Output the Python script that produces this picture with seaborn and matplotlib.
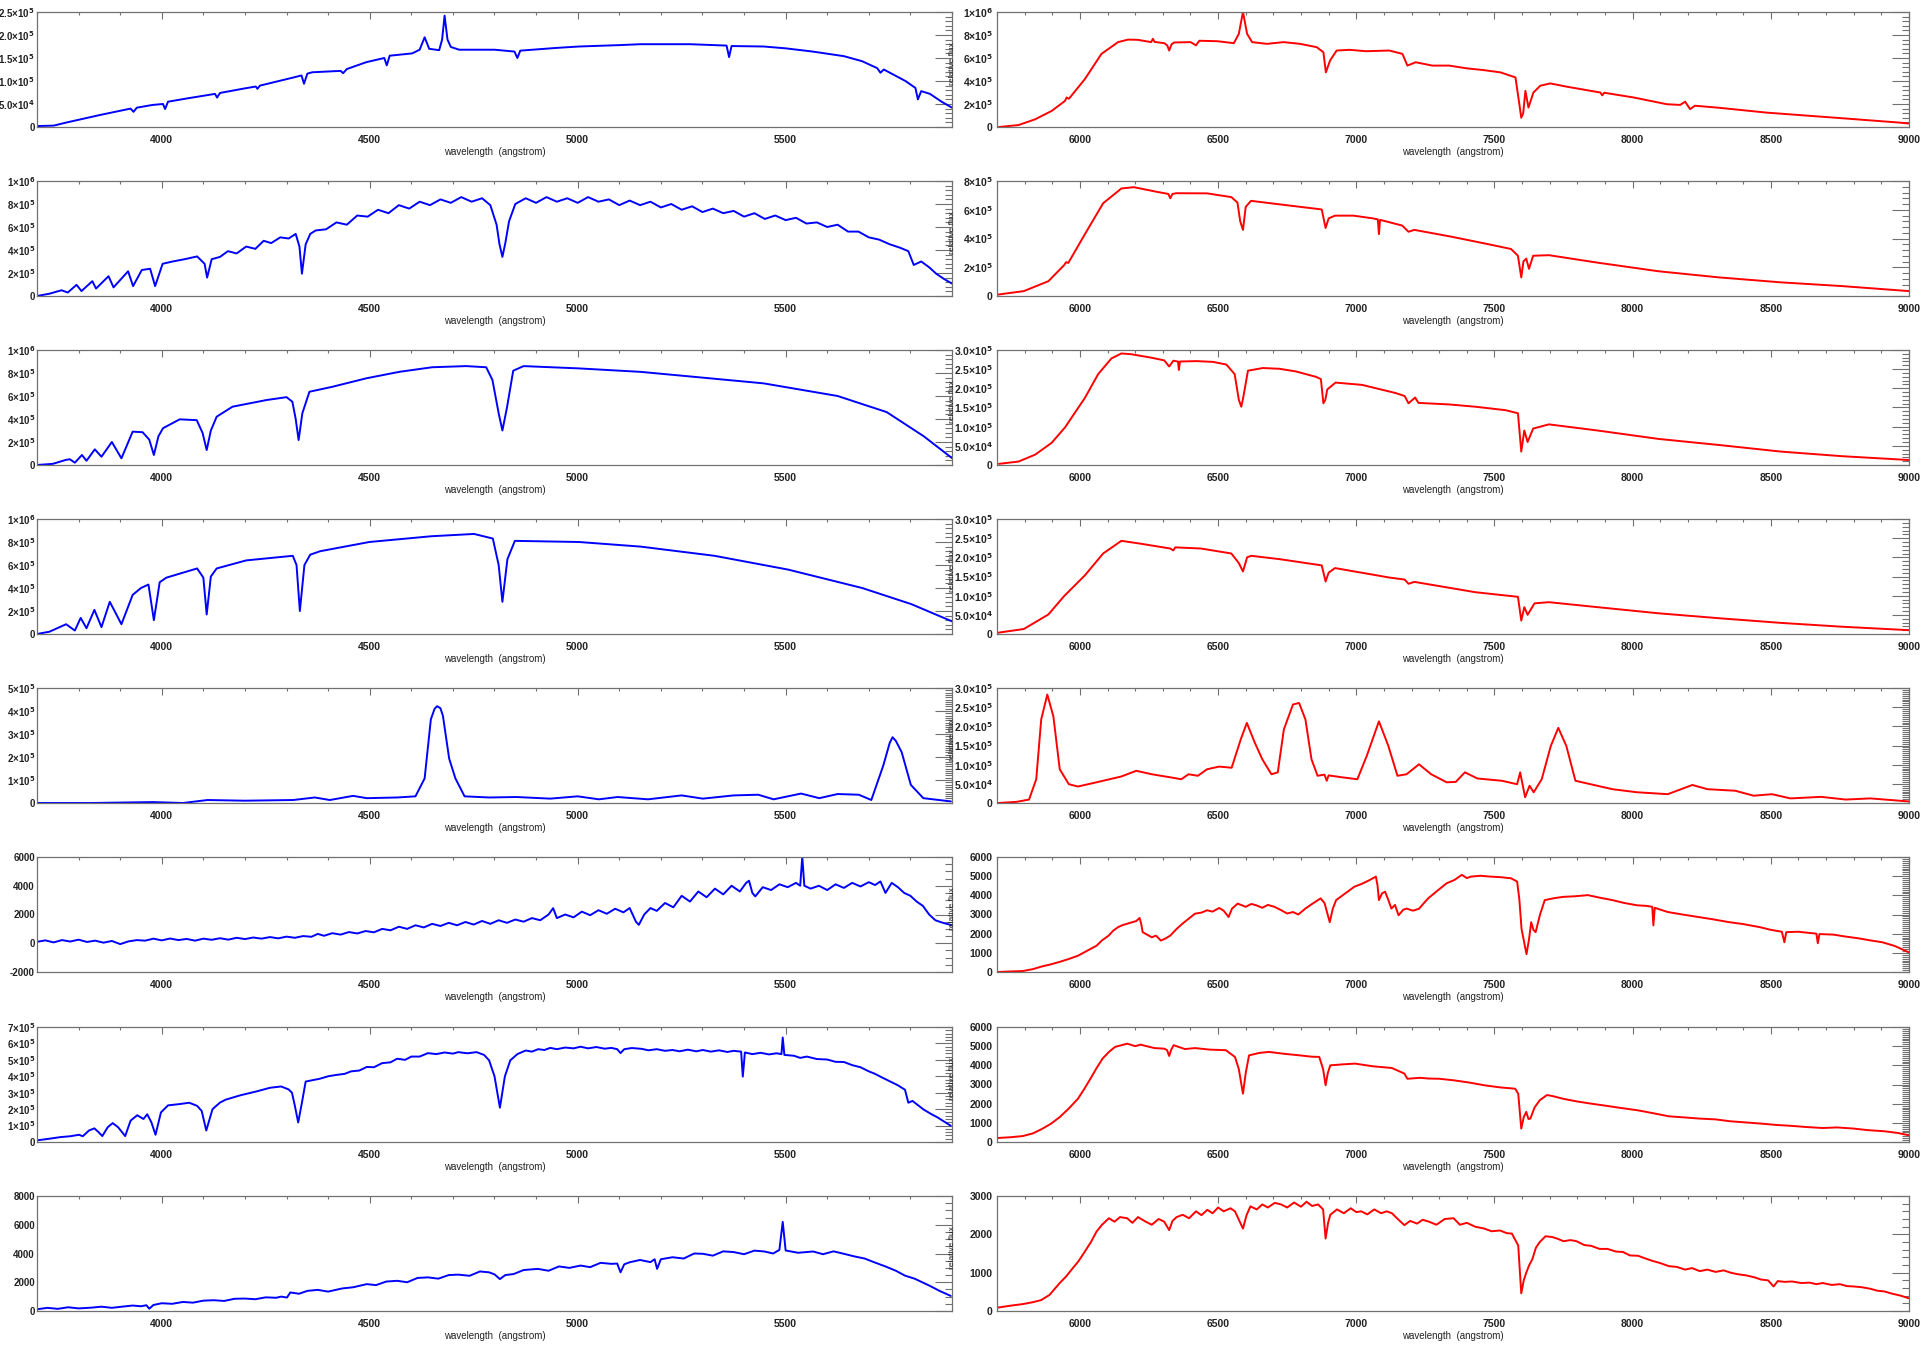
import numpy as np
import pandas as pd
import matplotlib
matplotlib.use("Agg")
import matplotlib.pyplot as plt
from matplotlib.ticker import MultipleLocator, FuncFormatter
import seaborn as sns

# spectra: (wavelength in angstrom, flux in panel units)
# left column, blue arm
blue_1 = [(3700, 0.02), (3740, 0.03), (3772, 0.1), (3851, 0.26), (3925, 0.40), (3932, 0.33), (3940, 0.42),
          (3978, 0.48), (4003, 0.50), (4008, 0.39), (4015, 0.55), (4060, 0.62), (4128, 0.72), (4133, 0.64),
          (4140, 0.74), (4200, 0.84), (4226, 0.88), (4230, 0.83), (4236, 0.9), (4300, 1.04), (4336, 1.12),
          (4342, 0.94), (4350, 1.16), (4362, 1.19), (4430, 1.22), (4436, 1.17), (4445, 1.26), (4492, 1.41),
          (4535, 1.5), (4541, 1.34), (4548, 1.55), (4602, 1.6), (4620, 1.68), (4632, 1.95), (4643, 1.7),
          (4667, 1.67), (4674, 1.9), (4680, 2.42), (4687, 1.9), (4695, 1.74), (4715, 1.68), (4800, 1.68),
          (4848, 1.64), (4855, 1.5), (4862, 1.66), (4950, 1.72), (5003, 1.75), (5100, 1.78), (5151, 1.8),
          (5270, 1.8), (5358, 1.77), (5364, 1.52), (5370, 1.76), (5447, 1.75), (5500, 1.71), (5565, 1.64),
          (5640, 1.54), (5684, 1.43), (5720, 1.28), (5728, 1.18), (5736, 1.25), (5788, 1.0), (5812, 0.85),
          (5818, 0.6), (5826, 0.78), (5847, 0.72), (5875, 0.55), (5900, 0.42)]

blue_2 = [(3700, 0.0), (3730, 0.2), (3759, 0.5), (3774, 0.3), (3795, 0.97), (3807, 0.43), (3833, 1.29),
          (3842, 0.65), (3872, 1.72), (3884, 0.75), (3919, 2.15), (3931, 0.86), (3952, 2.26), (3972, 2.37),
          (3984, 0.86), (4002, 2.8), (4026, 3.0), (4055, 3.2), (4085, 3.44), (4103, 2.8), (4109, 1.6),
          (4120, 3.2), (4140, 3.4), (4159, 3.9), (4180, 3.7), (4203, 4.3), (4225, 4.1), (4245, 4.8),
          (4263, 4.6), (4285, 5.1), (4305, 5.0), (4322, 5.4), (4331, 4.3), (4337, 1.94), (4346, 4.5),
          (4357, 5.4), (4370, 5.7), (4395, 5.8), (4420, 6.4), (4445, 6.2), (4470, 7.0), (4495, 6.9),
          (4520, 7.5), (4545, 7.2), (4570, 7.9), (4595, 7.6), (4620, 8.2), (4645, 7.9), (4670, 8.4),
          (4695, 8.1), (4720, 8.6), (4745, 8.2), (4770, 8.5), (4790, 7.9), (4805, 6.2), (4812, 4.5),
          (4819, 3.4), (4826, 4.6), (4835, 6.5), (4850, 8.0), (4875, 8.5), (4900, 8.1), (4925, 8.6),
          (4950, 8.2), (4975, 8.5), (5000, 8.1), (5025, 8.6), (5050, 8.2), (5075, 8.4), (5100, 7.9),
          (5125, 8.3), (5150, 7.9), (5175, 8.2), (5200, 7.7), (5225, 8.0), (5250, 7.5), (5275, 7.8),
          (5300, 7.3), (5325, 7.6), (5350, 7.2), (5375, 7.4), (5400, 6.9), (5425, 7.2), (5450, 6.7),
          (5475, 7.0), (5500, 6.6), (5525, 6.8), (5550, 6.3), (5575, 6.4), (5600, 6.0), (5625, 6.2),
          (5650, 5.6), (5675, 5.6), (5700, 5.1), (5725, 4.9), (5750, 4.5), (5775, 4.2), (5795, 3.9),
          (5808, 2.7), (5826, 3.0), (5845, 2.5), (5862, 1.94), (5880, 1.5), (5900, 1.08)]

blue_3 = [(3700, 0.0), (3738, 0.1), (3770, 0.45), (3779, 0.5), (3791, 0.2), (3808, 0.87), (3819, 0.37),
          (3839, 1.36), (3855, 0.72), (3880, 2.0), (3903, 0.58), (3930, 2.9), (3954, 2.85), (3970, 2.2),
          (3981, 0.87), (3992, 2.5), (4003, 3.2), (4043, 3.97), (4084, 3.9), (4098, 2.8), (4108, 1.3),
          (4118, 3.0), (4132, 4.2), (4170, 5.07), (4252, 5.65), (4300, 5.9), (4314, 5.5), (4322, 4.0),
          (4329, 2.17), (4338, 4.5), (4355, 6.37), (4410, 6.8), (4492, 7.54), (4571, 8.1), (4650, 8.5),
          (4732, 8.6), (4780, 8.5), (4795, 7.4), (4810, 4.5), (4819, 3.0), (4830, 5.0), (4845, 8.2),
          (4870, 8.6), (5003, 8.4), (5151, 8.1), (5270, 7.7), (5447, 7.1), (5625, 6.0), (5743, 4.6),
          (5832, 2.5), (5900, 0.6)]

blue_4 = [(3700, 0.0), (3730, 0.2), (3770, 0.85), (3791, 0.3), (3805, 1.4), (3819, 0.5), (3838, 2.1),
          (3855, 0.6), (3875, 2.8), (3903, 0.85), (3930, 3.4), (3950, 4.0), (3968, 4.3), (3981, 1.2),
          (3995, 4.5), (4011, 4.9), (4085, 5.7), (4100, 4.9), (4108, 1.7), (4118, 5.0), (4132, 5.7),
          (4203, 6.4), (4315, 6.8), (4324, 6.0), (4332, 2.0), (4343, 6.0), (4357, 6.9), (4381, 7.2),
          (4499, 8.0), (4648, 8.5), (4751, 8.7), (4796, 8.3), (4810, 6.0), (4819, 2.8), (4831, 6.5),
          (4849, 8.1), (5003, 8.0), (5151, 7.6), (5329, 6.8), (5506, 5.6), (5684, 4.0), (5802, 2.6),
          (5900, 1.1)]

blue_5 = [(3700, 0.0), (3831, 0.0), (3978, 0.04), (4051, 0.0), (4110, 0.13), (4199, 0.1), (4316, 0.13),
          (4368, 0.24), (4404, 0.13), (4460, 0.31), (4493, 0.21), (4566, 0.24), (4610, 0.29), (4632, 1.07),
          (4647, 3.64), (4656, 4.1), (4662, 4.21), (4670, 4.12), (4676, 3.79), (4691, 1.93), (4706, 1.07),
          (4728, 0.29), (4787, 0.24), (4853, 0.26), (4934, 0.19), (5000, 0.29), (5051, 0.16), (5096, 0.26),
          (5169, 0.16), (5250, 0.33), (5301, 0.19), (5375, 0.33), (5434, 0.36), (5471, 0.16), (5537, 0.41),
          (5581, 0.21), (5625, 0.39), (5676, 0.36), (5706, 0.13), (5735, 1.64), (5750, 2.6), (5757, 2.86),
          (5765, 2.7), (5779, 2.21), (5801, 0.79), (5831, 0.21), (5897, 0.07)]

blue_6 = [(3700, 100), (3720, 200), (3740, 60), (3760, 220), (3780, 120), (3800, 250), (3820, 90),
          (3840, 180), (3860, 40), (3880, 160), (3900, -60), (3920, 130), (3940, 220), (3960, 180),
          (3980, 320), (4000, 200), (4020, 330), (4040, 220), (4060, 300), (4080, 180), (4100, 320),
          (4120, 240), (4140, 350), (4160, 250), (4180, 380), (4200, 290), (4220, 400), (4240, 320),
          (4260, 430), (4280, 340), (4300, 460), (4320, 380), (4340, 500), (4360, 450), (4375, 650),
          (4390, 520), (4410, 700), (4430, 600), (4450, 780), (4470, 680), (4490, 850), (4510, 760),
          (4530, 1000), (4550, 900), (4570, 1150), (4590, 1000), (4610, 1250), (4630, 1100), (4650, 1350),
          (4670, 1200), (4690, 1420), (4710, 1250), (4730, 1480), (4750, 1300), (4770, 1550), (4790, 1350),
          (4810, 1600), (4830, 1420), (4850, 1650), (4870, 1500), (4890, 1750), (4910, 1600), (4930, 2000),
          (4941, 2440), (4950, 1750), (4970, 2000), (4990, 1800), (5010, 2200), (5030, 1950), (5050, 2300),
          (5070, 2050), (5090, 2400), (5110, 2150), (5125, 2450), (5140, 1500), (5147, 1280), (5160, 2000),
          (5175, 2450), (5190, 2250), (5210, 2800), (5230, 2500), (5250, 3300), (5270, 2900), (5290, 3600),
          (5310, 3200), (5330, 3800), (5350, 3400), (5370, 4000), (5390, 3600), (5405, 4200), (5412, 4350),
          (5420, 3500), (5427, 3260), (5445, 3900), (5465, 3700), (5485, 4100), (5505, 3900), (5525, 4200),
          (5535, 4000), (5540, 6000), (5545, 4000), (5560, 3800), (5580, 4000), (5600, 3700), (5620, 4100),
          (5640, 3850), (5660, 4200), (5680, 3950), (5700, 4250), (5715, 4050), (5728, 4300), (5740, 3500),
          (5755, 4200), (5770, 3900), (5785, 3500), (5800, 3300), (5815, 2900), (5830, 2600), (5845, 2000),
          (5860, 1600), (5875, 1450), (5900, 1250)]

blue_7 = [(3700, 0.1), (3730, 0.2), (3757, 0.3), (3780, 0.35), (3801, 0.44), (3810, 0.35), (3825, 0.7),
          (3838, 0.83), (3848, 0.6), (3857, 0.36), (3870, 0.9), (3882, 1.15), (3895, 0.9), (3912, 0.36),
          (3925, 1.3), (3941, 1.63), (3956, 1.4), (3965, 1.69), (3975, 1.2), (3985, 0.44), (3998, 1.8),
          (4015, 2.23), (4040, 2.3), (4066, 2.39), (4085, 2.2), (4096, 1.89), (4107, 0.7), (4122, 2.0),
          (4140, 2.4), (4154, 2.58), (4190, 2.85), (4228, 3.08), (4260, 3.3), (4287, 3.38), (4305, 3.2),
          (4313, 3.0), (4320, 2.2), (4328, 1.19), (4337, 2.4), (4346, 3.68), (4380, 3.85), (4400, 4.0),
          (4419, 4.08), (4440, 4.15), (4455, 4.3), (4475, 4.35), (4493, 4.57), (4510, 4.55), (4530, 4.8),
          (4550, 4.85), (4566, 5.07), (4585, 5.0), (4600, 5.2), (4620, 5.2), (4640, 5.41), (4660, 5.35),
          (4680, 5.45), (4700, 5.38), (4713, 5.47), (4735, 5.4), (4757, 5.47), (4775, 5.3), (4787, 4.97),
          (4800, 4.0), (4813, 2.09), (4825, 4.0), (4838, 4.97), (4855, 5.35), (4875, 5.57), (4890, 5.5),
          (4905, 5.65), (4920, 5.6), (4934, 5.73), (4950, 5.65), (4970, 5.75), (4990, 5.7), (5007, 5.8),
          (5025, 5.7), (5045, 5.78), (5065, 5.68), (5081, 5.73), (5095, 5.65), (5103, 5.41), (5112, 5.65),
          (5130, 5.72), (5154, 5.67), (5170, 5.58), (5190, 5.65), (5210, 5.55), (5228, 5.6), (5245, 5.52),
          (5265, 5.62), (5285, 5.52), (5301, 5.6), (5320, 5.5), (5340, 5.58), (5360, 5.48), (5375, 5.55),
          (5393, 5.5), (5397, 3.98), (5402, 5.45), (5420, 5.35), (5440, 5.43), (5460, 5.33), (5478, 5.4),
          (5490, 5.35), (5493, 6.36), (5497, 5.3), (5520, 5.25), (5535, 5.12), (5551, 5.2), (5575, 5.05),
          (5600, 5.02), (5620, 4.88), (5640, 4.87), (5660, 4.68), (5680, 4.55), (5700, 4.3), (5713, 4.17),
          (5730, 3.95), (5750, 3.7), (5770, 3.45), (5787, 3.18), (5795, 2.39), (5805, 2.5), (5831, 1.99),
          (5850, 1.7), (5865, 1.5), (5897, 0.99)]

blue_8 = [(3700, 120), (3725, 220), (3750, 150), (3775, 260), (3800, 180), (3831, 234), (3855, 300),
          (3880, 220), (3904, 300), (3930, 380), (3950, 330), (3963, 400), (3970, 160), (3980, 420),
          (4000, 540), (4025, 500), (4051, 630), (4075, 580), (4100, 720), (4125, 750), (4150, 700),
          (4175, 850), (4199, 866), (4225, 820), (4250, 950), (4275, 920), (4287, 1000), (4301, 936),
          (4309, 1290), (4330, 1200), (4350, 1400), (4375, 1470), (4400, 1350), (4434, 1570), (4460, 1650),
          (4493, 1870), (4515, 1800), (4540, 2050), (4566, 2100), (4590, 2000), (4615, 2300), (4640, 2340),
          (4665, 2250), (4690, 2500), (4713, 2530), (4740, 2450), (4765, 2750), (4787, 2690), (4800, 2550),
          (4813, 2220), (4826, 2500), (4846, 2570), (4870, 2850), (4904, 2930), (4930, 2800), (4955, 3100),
          (4980, 3000), (5007, 3160), (5030, 3050), (5055, 3350), (5081, 3280), (5095, 3300), (5103, 2690),
          (5112, 3250), (5125, 3390), (5150, 3550), (5175, 3400), (5185, 3600), (5191, 2930), (5200, 3600),
          (5228, 3740), (5255, 3650), (5280, 4000), (5301, 3980), (5325, 3850), (5350, 4150), (5375, 4100),
          (5400, 3950), (5425, 4200), (5449, 4140), (5470, 4000), (5485, 4250), (5493, 6200), (5500, 4210),
          (5530, 4050), (5566, 4140), (5590, 3950), (5615, 4150), (5640, 3980), (5665, 3800), (5690, 3650),
          (5713, 3390), (5740, 3100), (5765, 2800), (5787, 2460), (5810, 2250), (5846, 1760), (5870, 1400),
          (5897, 1050)]

# right column, red arm
red_1 = [(5707, 0.0), (5778, 0.17), (5838, 0.67), (5898, 1.4), (5946, 2.27), (5952, 2.57), (5960, 2.45),
         (6018, 4.17), (6078, 6.36), (6138, 7.38), (6174, 7.6), (6210, 7.58), (6258, 7.38), (6264, 7.67),
         (6270, 7.4), (6305, 7.29), (6316, 7.1), (6323, 6.65), (6332, 7.2), (6341, 7.35), (6401, 7.38),
         (6420, 7.1), (6432, 7.5), (6497, 7.46), (6557, 7.29), (6575, 8.1), (6590, 10.0), (6605, 8.1),
         (6623, 7.38), (6677, 7.23), (6737, 7.38), (6797, 7.23), (6857, 6.94), (6881, 6.5), (6890, 4.75),
         (6905, 5.77), (6929, 6.65), (6976, 6.71), (7036, 6.59), (7119, 6.65), (7167, 6.36), (7185, 5.34),
         (7215, 5.63), (7275, 5.34), (7336, 5.34), (7400, 5.1), (7460, 4.95), (7522, 4.75), (7576, 4.31),
         (7590, 2.0), (7597, 0.8), (7604, 1.2), (7612, 3.15), (7623, 1.69), (7641, 3.0), (7666, 3.59),
         (7702, 3.79), (7763, 3.5), (7883, 3.0), (7890, 2.75), (7897, 2.98), (8003, 2.57), (8124, 1.98),
         (8172, 1.92), (8190, 2.2), (8208, 1.55), (8225, 1.85), (8305, 1.69), (8485, 1.25), (8726, 0.82),
         (8967, 0.38), (9000, 0.3)]

red_2 = [(5700, 0.09), (5797, 0.34), (5886, 1.03), (5943, 2.15), (5950, 2.35), (5958, 2.3), (6018, 4.3),
         (6084, 6.45), (6150, 7.48), (6195, 7.57), (6283, 7.23), (6320, 7.1), (6327, 6.8), (6335, 7.1),
         (6349, 7.15), (6460, 7.14), (6548, 6.88), (6570, 6.5), (6580, 5.2), (6590, 4.6), (6600, 6.2),
         (6619, 6.62), (6725, 6.37), (6875, 6.02), (6889, 4.73), (6900, 5.4), (6923, 5.59), (6990, 5.59),
         (7060, 5.4), (7078, 5.33), (7082, 4.3), (7086, 5.3), (7166, 4.9), (7189, 4.47), (7210, 4.6),
         (7343, 4.13), (7476, 3.61), (7560, 3.27), (7585, 2.8), (7597, 1.29), (7605, 2.41), (7615, 2.6),
         (7625, 1.89), (7640, 2.8), (7697, 2.84), (7873, 2.32), (8094, 1.72), (8315, 1.29), (8536, 0.95),
         (8757, 0.69), (9000, 0.34)]

red_3 = [(5707, 0.03), (5778, 0.09), (5838, 0.27), (5898, 0.58), (5946, 0.98), (6018, 1.75), (6066, 2.37),
         (6114, 2.78), (6150, 2.91), (6186, 2.89), (6258, 2.8), (6305, 2.73), (6323, 2.57), (6338, 2.72),
         (6355, 2.7), (6358, 2.48), (6362, 2.7), (6422, 2.71), (6482, 2.69), (6530, 2.62), (6560, 2.37),
         (6575, 1.7), (6584, 1.52), (6592, 1.8), (6608, 2.46), (6662, 2.53), (6722, 2.51), (6782, 2.44),
         (6854, 2.3), (6872, 2.24), (6881, 1.61), (6888, 1.7), (6895, 1.97), (6925, 2.15), (7021, 2.09),
         (7141, 1.88), (7175, 1.8), (7189, 1.61), (7213, 1.76), (7225, 1.62), (7336, 1.58), (7431, 1.52),
         (7540, 1.43), (7585, 1.35), (7597, 0.35), (7608, 0.9), (7620, 0.6), (7640, 0.95), (7697, 1.06),
         (7873, 0.9), (8094, 0.68), (8315, 0.52), (8536, 0.35), (8757, 0.23), (9000, 0.13)]

red_4 = [(5700, 0.03), (5797, 0.13), (5886, 0.51), (5943, 0.99), (6018, 1.53), (6084, 2.1), (6150, 2.43),
         (6216, 2.36), (6327, 2.23), (6338, 2.18), (6345, 2.26), (6438, 2.23), (6548, 2.1), (6575, 1.85),
         (6590, 1.63), (6605, 2.0), (6620, 2.04), (6725, 1.95), (6875, 1.79), (6889, 1.37), (6900, 1.6),
         (6923, 1.72), (7122, 1.47), (7175, 1.42), (7189, 1.31), (7210, 1.36), (7431, 1.09), (7585, 0.97),
         (7597, 0.35), (7608, 0.7), (7620, 0.5), (7645, 0.8), (7697, 0.83), (7873, 0.7), (8094, 0.54),
         (8315, 0.41), (8536, 0.29), (8757, 0.19), (9000, 0.1)]

red_5 = [(5704, 0.0), (5771, 0.03), (5816, 0.09), (5842, 0.62), (5860, 2.18), (5882, 2.83), (5904, 2.26),
         (5927, 0.88), (5960, 0.49), (5993, 0.43), (6060, 0.54), (6149, 0.69), (6204, 0.84), (6260, 0.75),
         (6327, 0.67), (6367, 0.62), (6393, 0.75), (6427, 0.71), (6460, 0.88), (6504, 0.95), (6549, 0.92),
         (6582, 1.66), (6604, 2.09), (6633, 1.57), (6660, 1.14), (6693, 0.75), (6716, 0.8), (6738, 1.92),
         (6771, 2.57), (6793, 2.61), (6816, 2.18), (6838, 1.14), (6860, 0.71), (6885, 0.74), (6893, 0.58),
         (6900, 0.72), (6949, 0.67), (7004, 0.62), (7038, 1.23), (7082, 2.13), (7116, 1.49), (7149, 0.71),
         (7182, 0.75), (7227, 1.01), (7271, 0.75), (7327, 0.54), (7360, 0.55), (7393, 0.8), (7438, 0.64),
         (7527, 0.58), (7582, 0.49), (7593, 0.8), (7611, 0.15), (7627, 0.45), (7642, 0.28), (7671, 0.62),
         (7704, 1.49), (7731, 1.96), (7760, 1.49), (7793, 0.58), (7860, 0.47), (7927, 0.36), (8016, 0.28),
         (8127, 0.23), (8216, 0.47), (8271, 0.36), (8371, 0.32), (8438, 0.19), (8504, 0.23), (8571, 0.12),
         (8682, 0.16), (8771, 0.09), (8860, 0.12), (9000, 0.04)]

red_6 = [(5704, 0), (5750, 30), (5793, 50), (5830, 150), (5860, 280), (5895, 400), (5927, 530), (5960, 680),
         (5993, 850), (6025, 1100), (6060, 1370), (6080, 1650), (6104, 1900), (6120, 2150), (6138, 2340),
         (6155, 2450), (6171, 2520), (6190, 2600), (6204, 2660), (6216, 2820), (6222, 2500), (6227, 2080),
         (6243, 1950), (6260, 1810), (6275, 1900), (6293, 1640), (6310, 1750), (6327, 1900), (6350, 2250),
         (6371, 2520), (6395, 2800), (6416, 3040), (6440, 3100), (6460, 3220), (6480, 3150), (6504, 3340),
         (6520, 3200), (6538, 2870), (6550, 3300), (6571, 3570), (6600, 3400), (6620, 3550), (6638, 3480),
         (6660, 3350), (6680, 3500), (6704, 3400), (6725, 3250), (6750, 3050), (6771, 3130), (6790, 3000),
         (6816, 3310), (6840, 3550), (6871, 3840), (6885, 3600), (6904, 2600), (6915, 3300), (6927, 3750),
         (6960, 4100), (6993, 4450), (7020, 4600), (7049, 4800), (7071, 4980), (7077, 4500), (7082, 3750),
         (7093, 4100), (7104, 4190), (7115, 3800), (7127, 3310), (7140, 3500), (7153, 2960), (7170, 3250),
         (7182, 3310), (7205, 3200), (7227, 3300), (7245, 3600), (7260, 3840), (7290, 4200), (7327, 4630),
         (7355, 4800), (7382, 5070), (7400, 4900), (7416, 4980), (7450, 5020), (7482, 4980), (7520, 4950),
         (7560, 4890), (7582, 4720), (7590, 3800), (7598, 2250), (7616, 930), (7625, 1700), (7633, 2600),
         (7641, 2200), (7649, 2080), (7665, 3000), (7682, 3750), (7715, 3850), (7749, 3920), (7790, 3950),
         (7838, 4010), (7880, 3880), (7927, 3750), (7970, 3600), (8016, 3480), (8050, 3450), (8071, 3400),
         (8075, 2430), (8080, 3350), (8127, 3130), (8180, 3000), (8238, 2870), (8290, 2750), (8349, 2600),
         (8400, 2500), (8460, 2340), (8500, 2200), (8540, 2100), (8549, 1550), (8556, 2080), (8600, 2100),
         (8638, 2040), (8665, 2000), (8670, 1500), (8676, 1980), (8727, 1950), (8770, 1850), (8816, 1760),
         (8860, 1650), (8904, 1550), (8950, 1350), (9000, 1020)]

red_7 = [(5704, 210), (5750, 250), (5793, 310), (5830, 450), (5860, 660), (5895, 950), (5927, 1300),
         (5960, 1750), (5993, 2260), (6015, 2750), (6038, 3300), (6060, 3850), (6082, 4350), (6105, 4700),
         (6127, 4960), (6150, 5050), (6171, 5130), (6200, 5000), (6220, 5080), (6238, 5010), (6270, 4900),
         (6305, 4870), (6315, 4800), (6323, 4490), (6330, 4800), (6339, 5050), (6380, 4850), (6416, 4900),
         (6470, 4820), (6528, 4790), (6561, 4440), (6575, 3800), (6590, 2520), (6600, 3600), (6612, 4520),
         (6650, 4650), (6684, 4700), (6740, 4600), (6795, 4520), (6840, 4450), (6866, 4440), (6880, 3800),
         (6889, 2960), (6897, 3600), (6906, 4000), (6950, 4050), (6996, 4090), (7060, 3950), (7129, 3860),
         (7174, 3570), (7185, 3300), (7196, 3310), (7230, 3350), (7263, 3310), (7300, 3300), (7352, 3220),
         (7410, 3100), (7463, 2960), (7520, 2850), (7575, 2780), (7586, 2520), (7597, 700), (7606, 1300),
         (7615, 1570), (7623, 1200), (7630, 1220), (7645, 1800), (7664, 2180), (7690, 2450), (7709, 2400),
         (7750, 2250), (7797, 2120), (7850, 2000), (7909, 1880), (7960, 1770), (8020, 1650), (8075, 1500),
         (8131, 1340), (8190, 1280), (8243, 1220), (8300, 1180), (8354, 1080), (8410, 1020), (8465, 960),
         (8520, 890), (8577, 840), (8630, 780), (8688, 730), (8740, 760), (8800, 700), (8850, 620),
         (8911, 560), (8960, 470), (9000, 350)]

red_8 = [(5704, 90), (5750, 140), (5793, 180), (5830, 230), (5860, 285), (5890, 420), (5927, 730), (5950, 900),
         (5971, 1090), (5995, 1300), (6016, 1530), (6040, 1800), (6060, 2070), (6080, 2250), (6105, 2420),
         (6125, 2330), (6145, 2450), (6171, 2420), (6190, 2300), (6210, 2450), (6238, 2330), (6260, 2250),
         (6285, 2400), (6305, 2330), (6323, 2110), (6335, 2350), (6350, 2450), (6372, 2510), (6395, 2420),
         (6420, 2600), (6440, 2500), (6461, 2640), (6480, 2550), (6500, 2700), (6520, 2600), (6545, 2680),
         (6561, 2600), (6574, 2400), (6590, 2150), (6603, 2500), (6617, 2730), (6640, 2650), (6660, 2780),
         (6680, 2700), (6705, 2820), (6728, 2780), (6750, 2700), (6775, 2830), (6800, 2720), (6820, 2850),
         (6840, 2740), (6862, 2780), (6880, 2650), (6889, 1890), (6898, 2300), (6906, 2510), (6930, 2650),
         (6955, 2550), (6980, 2680), (7000, 2580), (7018, 2600), (7040, 2520), (7065, 2650), (7090, 2550),
         (7110, 2600), (7129, 2550), (7150, 2400), (7174, 2240), (7195, 2350), (7220, 2280), (7240, 2380),
         (7263, 2330), (7290, 2250), (7320, 2400), (7352, 2420), (7375, 2250), (7400, 2300), (7430, 2200),
         (7463, 2150), (7490, 2080), (7520, 2100), (7545, 2030), (7563, 2020), (7586, 1710), (7597, 460),
         (7606, 800), (7615, 1000), (7626, 1200), (7637, 1350), (7650, 1650), (7664, 1800), (7685, 1950),
         (7709, 1930), (7730, 1880), (7750, 1820), (7775, 1850), (7797, 1820), (7825, 1720), (7850, 1700),
         (7880, 1620), (7909, 1620), (7940, 1550), (7965, 1540), (7990, 1450), (8020, 1440), (8050, 1360),
         (8075, 1300), (8100, 1250), (8131, 1170), (8160, 1150), (8190, 1080), (8215, 1120), (8243, 1040),
         (8270, 1080), (8300, 1020), (8330, 1060), (8354, 1000), (8380, 960), (8410, 930), (8440, 880),
         (8465, 820), (8490, 800), (8510, 640), (8525, 780), (8550, 760), (8577, 770), (8610, 730),
         (8640, 740), (8665, 700), (8688, 730), (8720, 680), (8750, 700), (8775, 650), (8800, 640),
         (8830, 620), (8860, 580), (8885, 530), (8911, 510), (8940, 450), (8970, 400), (9000, 330)]

blue_spectra = [blue_1, blue_2, blue_3, blue_4, blue_5, blue_6, blue_7, blue_8]
red_spectra = [red_1, red_2, red_3, red_4, red_5, red_6, red_7, red_8]

# flux unit of each panel's numbers above
blue_units = [1e5, 1e5, 1e5, 1e5, 1e5, 1, 1e5, 1]
red_units = [1e5, 1e5, 1e5, 1e5, 1e5, 1, 1, 1]

# y axis: (ymin, ymax, major step, minor step, label style)
blue_axes = [(0, 2.5e5, 5e4, 1e4, 1), (0, 1e6, 2e5, 4e4, 0), (0, 1e6, 2e5, 4e4, 0), (0, 1e6, 2e5, 4e4, 0),
             (0, 5e5, 1e5, 1e4, 0), (-2000, 6000, 2000, 500, "int"), (0, 7e5, 1e5, 2e4, 0),
             (0, 8000, 2000, 500, "int")]
red_axes = [(0, 1e6, 2e5, 4e4, 0), (0, 8e5, 2e5, 4e4, 0), (0, 3e5, 5e4, 1e4, 1), (0, 3e5, 5e4, 1e4, 1),
            (0, 3e5, 5e4, 5e3, 1), (0, 6000, 1000, 100, "int"), (0, 6000, 1000, 100, "int"),
            (0, 3000, 1000, 200, "int")]


def make_formatter(style):
    def fmt(v, pos):
        if abs(v) < 1e-9:
            return "0"
        if style == "int":
            return "%d" % round(v)
        e = int(np.floor(np.log10(abs(v)) + 1e-9))
        m = v / 10 ** e
        return "%.*f\u00d710$^{%d}$" % (style, m, e)
    return fmt


sns.set_style("white")
plt.rcParams["font.family"] = ["Liberation Sans", "DejaVu Sans"]
plt.rcParams["font.weight"] = "bold"
plt.rcParams["mathtext.default"] = "bf"

W, H = 1926, 1345
fig = plt.figure(figsize=(W / 100, H / 100), dpi=100)

row_tops = [12, 181, 350, 519, 688, 857, 1027, 1196]
row_h = 115
col_x = [(37, 952), (997, 1909)]
col_xlim = [(3700, 5900), (5700, 9000)]
col_color = ["#0000ff", "#ff0000"]
col_ylabelsize = [7, 7.5]
col_ypad = [1.5, 3]
grey = "#707070"

for col, (spectra, units, yaxes) in enumerate([(blue_spectra, blue_units, blue_axes),
                                               (red_spectra, red_units, red_axes)]):
    x0, x1 = col_x[col]
    for row in range(8):
        top = row_tops[row]
        ax = fig.add_axes([x0 / W, 1 - (top + row_h) / H, (x1 - x0) / W, row_h / H])
        wl, fx = zip(*spectra[row])
        df = pd.DataFrame({"wavelength": wl, "flux": np.array(fx) * units[row]})
        sns.lineplot(data=df, x="wavelength", y="flux", ax=ax, color=col_color[col],
                     linewidth=1.4, estimator=None, legend=False)

        ymin, ymax, major, minor, style = yaxes[row]
        ax.set_xlim(*col_xlim[col])
        ax.set_ylim(ymin, ymax)
        ax.xaxis.set_major_locator(MultipleLocator(500))
        ax.xaxis.set_minor_locator(MultipleLocator(100))
        ax.yaxis.set_major_locator(MultipleLocator(major))
        ax.yaxis.set_minor_locator(MultipleLocator(minor))
        ax.yaxis.set_major_formatter(FuncFormatter(make_formatter(style)))

        ax.tick_params(axis="both", which="both", direction="in", top=True, right=True,
                       color=grey, width=0.8, labelcolor="#222222")
        ax.tick_params(axis="x", which="major", length=5, pad=6, labelsize=7.5)
        ax.tick_params(axis="x", which="minor", length=2.5)
        ax.tick_params(axis="y", which="major", length=12, pad=col_ypad[col],
                       labelsize=col_ylabelsize[col])
        ax.tick_params(axis="y", which="minor", length=5)
        for s in ax.spines.values():
            s.set_color(grey)
            s.set_linewidth(0.9)

        ax.set_xlabel("wavelength  (angstrom)", fontsize=7, labelpad=1, color="#222222")
        if col == 1:
            ax.set_ylabel("relative flux", fontsize=6, color="#222222")
            ax.yaxis.set_label_coords(-0.045, 0.55)
        else:
            ax.set_ylabel("")

fig.savefig("out.png", dpi=100)
